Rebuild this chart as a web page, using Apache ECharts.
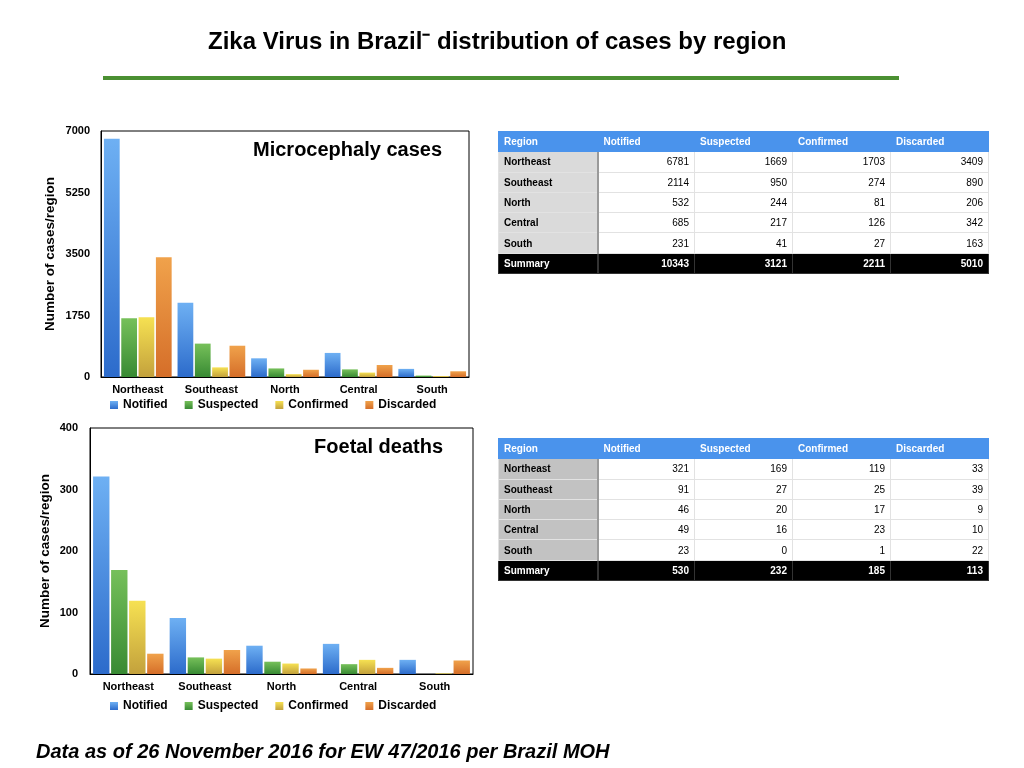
<!DOCTYPE html>
<html lang="en">
<head>
<meta charset="utf-8">
<title>Zika Virus in Brazil</title>
<script src="https://cdn.jsdelivr.net/npm/echarts@6.0.0/dist/echarts.min.js"></script>
<style>
  body { margin: 0; background: #fff; font-family: 'Liberation Sans', Arial, Helvetica, sans-serif; }
  #wrap { position: relative; width: 1024px; height: 768px; }
  #chart { position: absolute; left: 0; top: 0; width: 1024px; height: 768px; }
  table.t { position: absolute; border-collapse: collapse; font-size: 10px; table-layout: fixed; }
  table.t td { height: 19.3px; padding: 0 5px; border: 1px solid #e2e2e2; text-align: right; color: #000; }
  table.t tr.hd td { background: #4a93ec; color: #fff; font-weight: bold; text-align: left; border-color: #4a93ec; }
  table.t td.rg { text-align: left; font-weight: bold; border-right: 2px solid #9a9a9a; }
  table.t tr.sum td { background: #000; color: #fff; font-weight: bold; border-color: #333; }
</style>
</head>
<body>
<div id="wrap">
  <div id="chart"></div>
  <table class="t" id="tab1" style="left:498px; top:131px; width:490px;"></table>
  <table class="t" id="tab2" style="left:498px; top:438px; width:490px;"></table>
</div>
<script type="text/javascript">
  // data
  const regions = ['Northeast', 'Southeast', 'North', 'Central', 'South'];
  const columns = ['Notified', 'Suspected', 'Confirmed', 'Discarded'];

  // microcephaly cases
  const microNotified = [6781, 2114, 532, 685, 231];
  const microSuspected = [1669, 950, 244, 217, 41];
  const microConfirmed = [1703, 274, 81, 126, 27];
  const microDiscarded = [3409, 890, 206, 342, 163];
  const microSummary = [10343, 3121, 2211, 5010];

  // foetal deaths
  const foetalNotified = [321, 91, 46, 49, 23];
  const foetalSuspected = [169, 27, 20, 16, 0];
  const foetalConfirmed = [119, 25, 17, 23, 1];
  const foetalDiscarded = [33, 39, 9, 10, 22];
  const foetalSummary = [530, 232, 185, 113];

  const FONT = "'Liberation Sans', Arial, Helvetica, sans-serif";

  // bar gradients, light on top
  const grad = (top, bottom) => new echarts.graphic.LinearGradient(0, 0, 0, 1, [
    { offset: 0, color: top },
    { offset: 1, color: bottom }
  ]);
  const colors = [
    grad('#6eb0f3', '#2c6bcb'),
    grad('#76c05a', '#388a33'),
    grad('#f6e152', '#c3a13c'),
    grad('#f0a24b', '#d56e29')
  ];

  function makeSeries(idx, values) {
    return values.map((v, i) => ({
      name: columns[i],
      type: 'bar',
      xAxisIndex: idx,
      yAxisIndex: idx,
      data: v,
      barCategoryGap: '8%',
      barGap: '10%',
      itemStyle: { color: colors[i] }
    }));
  }

  const axisLabelStyle = { color: '#000', fontWeight: 'bold', fontSize: 11, fontFamily: FONT };
  const legendText = { color: '#000', fontWeight: 'bold', fontSize: 12, fontFamily: FONT };
  const plain = v => String(v); // no thousands separator

  const chart = echarts.init(document.getElementById('chart'));
  chart.setOption({
    backgroundColor: '#fff',
    animation: false,
    textStyle: { fontFamily: FONT },
    title: [
      {
        text: 'Zika Virus in Brazil\u207B distribution of cases by region',
        left: 203, top: 25,
        textStyle: { fontFamily: "'Liberation Sans Narrow', 'Arial Narrow', " + FONT, fontSize: 24, fontWeight: 'bold', color: '#000' }
      },
      {
        text: 'Microcephaly cases',
        right: 577, top: 135,
        textStyle: { fontSize: 20, fontWeight: 'bold', color: '#000' }
      },
      {
        text: 'Foetal deaths',
        right: 576, top: 432,
        textStyle: { fontSize: 20, fontWeight: 'bold', color: '#000' }
      },
      {
        text: 'Data as of 26 November 2016 for EW 47/2016 per Brazil MOH',
        left: 31, top: 737,
        textStyle: { fontSize: 20, fontWeight: 'bold', fontStyle: 'italic', color: '#000' }
      }
    ],
    graphic: [
      {
        type: 'rect',
        shape: { x: 103, y: 76, width: 796, height: 4 },
        style: { fill: '#4b9032' }
      }
    ],
    legend: [
      {
        data: columns, left: 105, top: 394,
        itemWidth: 8, itemHeight: 8, itemGap: 17, icon: 'rect',
        textStyle: legendText
      },
      {
        data: columns, left: 105, top: 695,
        itemWidth: 8, itemHeight: 8, itemGap: 17, icon: 'rect',
        textStyle: legendText
      }
    ],
    grid: [
      { left: 101, top: 131, width: 368, height: 246, show: true, borderColor: '#000', borderWidth: 1 },
      { left: 90, top: 428, width: 383, height: 246, show: true, borderColor: '#000', borderWidth: 1 }
    ],
    xAxis: [0, 1].map(i => ({
      type: 'category',
      gridIndex: i,
      data: regions,
      axisTick: { show: false },
      axisLine: { lineStyle: { color: '#000' } },
      axisLabel: Object.assign({ margin: 7 }, axisLabelStyle)
    })),
    yAxis: [
      {
        type: 'value', gridIndex: 0, min: 0, max: 7000, interval: 1750,
        name: 'Number of cases/region', nameLocation: 'middle', nameGap: 44,
        nameTextStyle: { color: '#000', fontWeight: 'bold', fontSize: 13.5 },
        splitLine: { show: false },
        axisLine: { show: true, lineStyle: { color: '#000' } },
        axisLabel: Object.assign({ margin: 11, formatter: plain }, axisLabelStyle)
      },
      {
        type: 'value', gridIndex: 1, min: 0, max: 400, interval: 100,
        name: 'Number of cases/region', nameLocation: 'middle', nameGap: 38,
        nameTextStyle: { color: '#000', fontWeight: 'bold', fontSize: 13.5 },
        splitLine: { show: false },
        axisLine: { show: true, lineStyle: { color: '#000' } },
        axisLabel: Object.assign({ margin: 12, formatter: plain }, axisLabelStyle)
      }
    ],
    series: makeSeries(0, [microNotified, microSuspected, microConfirmed, microDiscarded])
      .concat(makeSeries(1, [foetalNotified, foetalSuspected, foetalConfirmed, foetalDiscarded]))
  });

  // tables built from the same arrays
  function buildTable(id, cols, summary, regionBg) {
    const widths = [99, 97, 98, 98, 98];
    let html = '<colgroup>' + widths.map(w => '<col style="width:' + w + 'px">').join('') + '</colgroup>';
    html += '<tr class="hd"><td class="rg" style="border-right-color:#4a93ec">Region</td>' +
      columns.map(c => '<td>' + c + '</td>').join('') + '</tr>';
    regions.forEach((r, i) => {
      html += '<tr><td class="rg" style="background:' + regionBg + '">' + r + '</td>' +
        cols.map(c => '<td>' + c[i] + '</td>').join('') + '</tr>';
    });
    html += '<tr class="sum"><td class="rg" style="border-right-color:#333">Summary</td>' +
      summary.map(s => '<td>' + s + '</td>').join('') + '</tr>';
    document.getElementById(id).innerHTML = html;
  }
  buildTable('tab1', [microNotified, microSuspected, microConfirmed, microDiscarded], microSummary, '#dadada');
  buildTable('tab2', [foetalNotified, foetalSuspected, foetalConfirmed, foetalDiscarded], foetalSummary, '#c2c2c2');
</script>
</body>
</html>
